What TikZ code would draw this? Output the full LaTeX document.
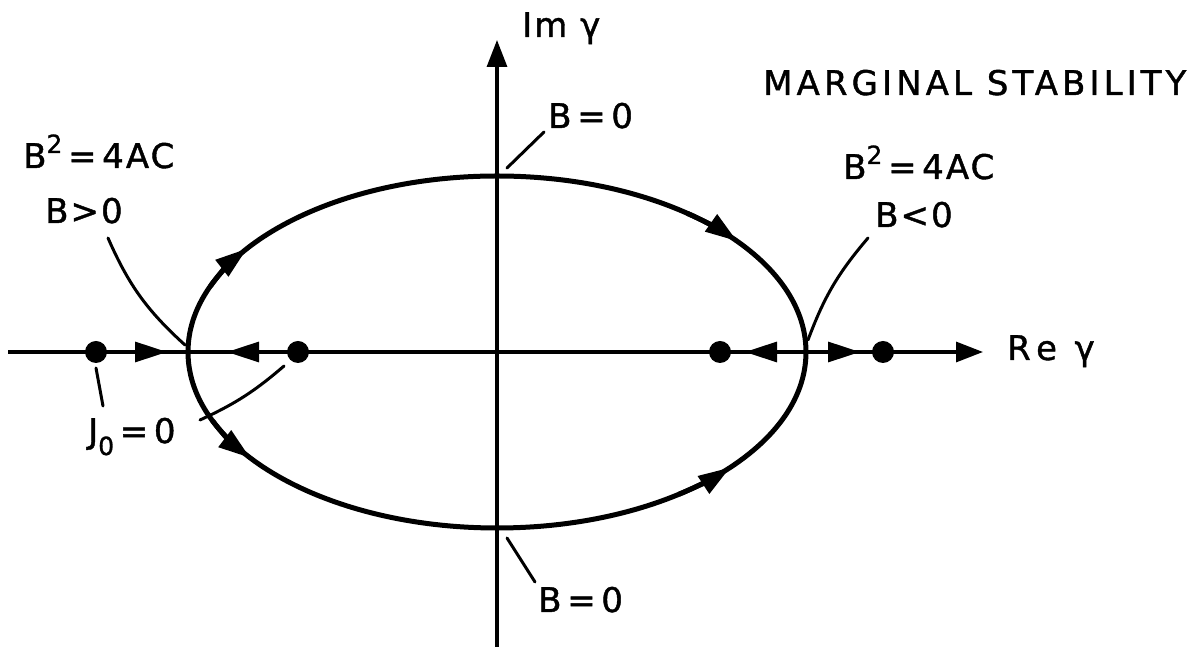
\documentclass[tikz,border=0pt]{standalone}
\usepackage{fontspec}
\setmainfont{DejaVu Sans}[FakeBold=1.2]
\usetikzlibrary{arrows.meta}
\newcommand{\supii}{\raisebox{15pt}{\fontsize{25}{25}\selectfont 2}}
\newcommand{\subo}{\raisebox{-12pt}{\fontsize{25}{25}\selectfont 0}}
\begin{document}
\begin{tikzpicture}[x=1pt,y=1pt,
  axis/.style={line width=3.2pt},
  curve/.style={line width=5pt},
  lead/.style={line width=3pt,line cap=round},
  dot/.style={circle,fill,inner sep=0pt,minimum size=22pt},
  lbl/.style={anchor=base west,inner sep=0pt,font=\fontsize{34}{34}\selectfont\addfontfeature{LetterSpace=6}},
  tipax/.style={-{Triangle[length=27pt,width=20pt]}},
  tipmid/.style={-{Triangle[length=32pt,width=20pt]}},
]
\useasboundingbox (0,0) rectangle (1204,647);
% key points
\coordinate (O) at (497,295);
\coordinate (L) at (188,295);
\coordinate (R) at (806,295);
\coordinate (xs) at (8,295);
\coordinate (xe) at (983,295);
\coordinate (ys) at (497,0);
\coordinate (ye) at (497,607);
% axes
\draw[axis,tipax] (xs) -- (xe);
\draw[axis,tipax] (ys) -- (ye);
% ellipse
\draw[curve] (O) ellipse[x radius=309,y radius=176];
% arrows on ellipse
\draw[curve,tipmid] (O) ++(158:309 and 176) arc[start angle=158,end angle=144,x radius=309,y radius=176];
\draw[curve,tipmid] (O) ++(203:309 and 176) arc[start angle=203,end angle=217,x radius=309,y radius=176];
\draw[curve,tipmid] (O) ++(52:309 and 176) arc[start angle=52,end angle=39,x radius=309,y radius=176];
\draw[curve,tipmid] (O) ++(306:309 and 176) arc[start angle=306,end angle=319,x radius=309,y radius=176];
% dots
\node[dot] (d1) at (96,295) {};
\node[dot] (d2) at (298,295) {};
\node[dot] (d3) at (720,295) {};
\node[dot] (d4) at (883,295) {};
% arrows on axis
\coordinate (a1) at (167,295);
\coordinate (a2) at (227,295);
\coordinate (a3) at (745,295);
\coordinate (a4) at (860,295);
\draw[axis,tipmid] (d1) -- (a1);
\draw[axis,tipmid] (d2) -- (a2);
\draw[axis,tipmid] (R) -- (a3);
\draw[axis,tipmid] (R) -- (a4);
% leaders
\coordinate (l1a) at (108,409); \coordinate (l1b) at (185,302);
\draw[lead] (l1a) to[bend right=12] (l1b);
\coordinate (l2a) at (96,279); \coordinate (l2b) at (103,241);
\draw[lead] (l2a) -- (l2b);
\coordinate (l3a) at (284,281); \coordinate (l3b) at (200,227);
\draw[lead] (l3a) to[bend left=8] (l3b);
\coordinate (l4a) at (868,409); \coordinate (l4b) at (808,307);
\draw[lead] (l4a) to[bend right=10] (l4b);
\coordinate (l5a) at (544,515); \coordinate (l5b) at (507,479);
\draw[lead] (l5a) -- (l5b);
\coordinate (l6a) at (507,109); \coordinate (l6b) at (535,65);
\draw[lead] (l6a) -- (l6b);
% labels
\node[lbl] (im) at (522,610) {Im γ};
\node[lbl] (bt) at (548,519) {B\,=\,0};
\node[lbl,font=\fontsize{34}{34}\selectfont\addfontfeature{LetterSpace=12}] (ms) at (763,552) {MARGINAL STABILITY};
\node[lbl] (bl) at (23,479) {B\supii\,=\,4AC};
\node[lbl] (bgt) at (45,424) {B>0};
\node[lbl] (jo) at (88,204) {J\subo\,=\,0};
\node[lbl] (br) at (843,468) {B\supii\,=\,4AC};
\node[lbl] (blt) at (875,420) {B<0};
\node[lbl,font=\fontsize{34}{34}\selectfont\addfontfeature{LetterSpace=20}] (re) at (1007,287) {Re γ};
\node[lbl] (bb) at (538,35) {B\,=\,0};
\end{tikzpicture}
\end{document}
